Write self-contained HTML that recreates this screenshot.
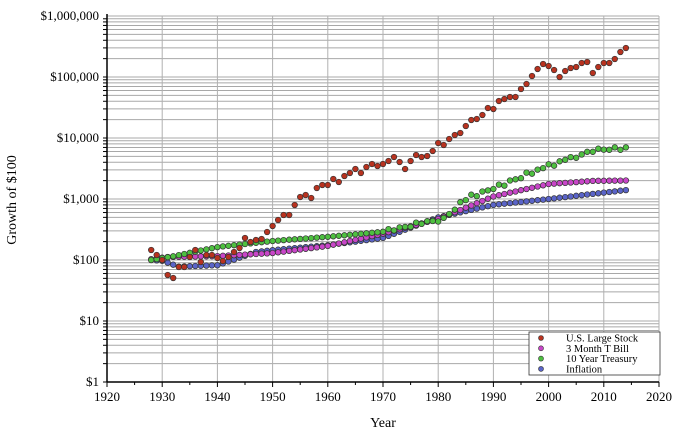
<!DOCTYPE html>
<html><head><meta charset="utf-8"><style>
body{margin:0;background:#fff;}
svg{display:block;font-family:"Liberation Serif",serif;}
</style></head><body>
<svg id="s" width="675" height="434" xmlns="http://www.w3.org/2000/svg"></svg>
<script>
const s=document.getElementById('s');
const L=107,R=659,T=16,B=382,D=61;
const X=y=>L+(y-1920)*5.52, Y=v=>B-D*Math.log10(v);
let h='';
for(let k=0;k<6;k++)for(let m=1;m<10;m++){const y=Y(m*Math.pow(10,k));h+=`<line x1="${L}" x2="${R}" y1="${y}" y2="${y}" stroke="#a8a8a8" stroke-width="1"/>`;h+=`<line x1="${L-4}" x2="${L}" y1="${y}" y2="${y}" stroke="#000"/>`;}
h+=`<line x1="${L}" x2="${R}" y1="${T}" y2="${T}" stroke="#a8a8a8"/>`;
for(let yr=1930;yr<=2020;yr+=10){h+=`<line x1="${X(yr)}" x2="${X(yr)}" y1="${T}" y2="${B}" stroke="#b0b0b0"/>`;}
for(let yr=1920;yr<=2020;yr+=5){h+=`<line x1="${X(yr)}" x2="${X(yr)}" y1="${B}" y2="${B+(yr%10?3:5)}" stroke="#000"/>`;}
for(let yr=1920;yr<=2020;yr+=10)h+=`<text x="${X(yr)}" y="401" font-size="13" text-anchor="middle">${yr}</text>`;
const labs=['$1','$10','$100','$1,000','$10,000','$100,000','$1,000,000'];
labs.forEach((t,i)=>h+=`<text x="${L-8}" y="${Y(Math.pow(10,i))+4}" font-size="13" text-anchor="end">${t}</text>`);
h+=`<line x1="${L}" x2="${L}" y1="${T-2}" y2="${B}" stroke="#000" stroke-width="1.5"/><line x1="${L}" x2="${R}" y1="${B}" y2="${B}" stroke="#000" stroke-width="1.5"/>`;
h+=`<text x="383" y="427" font-size="14" text-anchor="middle">Year</text>`;
h+=`<text transform="translate(16,200) rotate(-90)" font-size="14" text-anchor="middle">Growth of $100</text>`;
const sy=[250,255,260,275,278,267,267,257,250,262,255,255,258,261,257,252,248,238,242,240,239,232,226,220,215,215,205,197,195,198,188,185,185,179,182,176,173,169,173,167,164,166,164,161,157,162,169,161,155,157,156,151,143,145,139,135,133,126,120,119,115,108,109,101,99,97,97,89,84,76,69,64,66,70,77,71,68,67,63,62,73,67,63,63,59,52,48];
function interp(a,yr){for(let i=0;i<a.length-1;i++){if(yr>=a[i][0]&&yr<=a[i+1][0]){const t=(yr-a[i][0])/(a[i+1][0]-a[i][0]);return Math.pow(10,Math.log10(a[i][1])*(1-t)+Math.log10(a[i+1][1])*t);}}return a[a.length-1][1];}
const tb=[[1928,103],[1931,112],[1940,116],[1950,130],[1960,170],[1970,270],[1980,470],[1990,1100],[2000,1760],[2008,1980],[2014,2010]];
const inf=[[1928,100],[1930,97],[1933,78],[1940,82],[1947,135],[1950,145],[1960,175],[1970,230],[1980,500],[1990,800],[2000,1000],[2014,1400]];
const tr=[[1928,100],[1932,115],[1940,163],[1950,205],[1960,240],[1970,290],[1978,420],[1981,470],[1985,1000],[1990,1500],[1994,2100],[2000,3500],[2008,6200],[2014,7000]];
function dot(x,y,c){return `<circle cx="${x.toFixed(1)}" cy="${y.toFixed(1)}" r="2.8" fill="${c}" stroke="#333" stroke-width="0.7"/>`;}
const tw=[0,0,0,0,0,0,0,0,0,0,4,-3,2,0,-3,5,-2,2,0,-4,3,0,-2,5,-3,6,-4,3,0,-2,4,-5,3,0,-3,6,-3,2,0,4,-5,2,1,3,-4,0,2,-3,4,0,-2,3,-5,0];
for(let yr=1928;yr<=2014;yr++){h+=dot(X(yr),Y(interp(inf,yr)),'#5a64c8');}
for(let yr=1928;yr<=2014;yr++){h+=dot(X(yr),Y(interp(tb,yr)),'#c846c8');}
for(let yr=1928;yr<=2014;yr++){let v=interp(tr,yr);if(yr>1960)v*=Math.pow(10,(tw[(yr-1961)%tw.length]||0)*0.006);h+=dot(X(yr),Y(v),'#4ec040');}
sy.forEach((y,i)=>h+=dot(X(1928+i),y,'#b8321f'));
h+=`<rect x="529" y="332" width="131" height="43" fill="#fff" stroke="#333" stroke-width="0.8"/>`;
const lg=[['U.S. Large Stock','#b8321f'],['3 Month T Bill','#c846c8'],['10 Year Treasury','#4ec040'],['Inflation','#5a64c8']];
lg.forEach((l,i)=>{const y=338+i*10.3;h+=`<circle cx="541" cy="${y}" r="2.5" fill="${l[1]}" stroke="#333" stroke-width="0.6"/><text x="566" y="${y+3.5}" font-size="10.5">${l[0]}</text>`;});
s.innerHTML=h;
</script>
</body></html>
